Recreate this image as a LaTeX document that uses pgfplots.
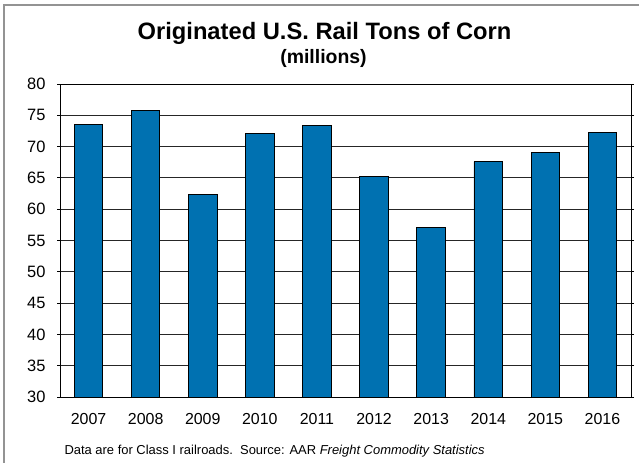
\documentclass[border=0pt]{standalone}
\usepackage{fontspec}
\setmainfont{Liberation Sans}
\usepackage{pgfplots}
\pgfplotsset{compat=1.18}
\definecolor{barblue}{HTML}{0071B1}
\begin{document}
\begin{tikzpicture}[x=1bp,y=1bp]
\path[use as bounding box] (0,0) rectangle (639,463);
\draw[gray!85,line width=1.5bp] (4,0) -- (4,458) -- (639,458);
\begin{axis}[
  at={(60bp,66bp)}, anchor=south west,
  scale only axis, width=571bp, height=313bp,
  xmin=-0.5, xmax=9.5, ymin=30, ymax=80,
  ytick={30,35,...,80},
  xtick={0,...,9},
  xticklabels={2007,2008,2009,2010,2011,2012,2013,2014,2015,2016},
  ymajorgrids, grid style={black!85, line width=0.8bp},
  axis line style={black, line width=0.9bp},
  xtick style={draw=none},
  ytick style={black, line width=0.8bp},
  tick align=outside, major tick length=3bp,
  /pgf/number format/assume math mode=true,
  yticklabel style={font=\fontsize{16.5}{16.5}\selectfont, xshift=-8bp},
  xticklabel style={font=\fontsize{16}{16}\selectfont, yshift=-10bp},
]
\addplot[ybar, bar width=0.5, fill=barblue, draw=black, line width=0.9bp]
  coordinates {(0,73.6) (1,75.8) (2,62.4) (3,72.1) (4,73.3) (5,65.3) (6,57.1) (7,67.6) (8,69.0) (9,72.3)};
\end{axis}
\node[font=\fontsize{23.8}{23.8}\selectfont\bfseries, anchor=base] at (324.5,423.7) {Originated U.S. Rail Tons of Corn};
\node[font=\fontsize{19.5}{19.5}\selectfont\bfseries, anchor=base] at (323.5,399.7) {(millions)};
\node[font=\fontsize{13}{13}\selectfont, anchor=base west] at (61,8) {Data are for Class I railroads.\ \ Source: AAR \textit{Freight Commodity Statistics}};
\end{tikzpicture}
\end{document}
